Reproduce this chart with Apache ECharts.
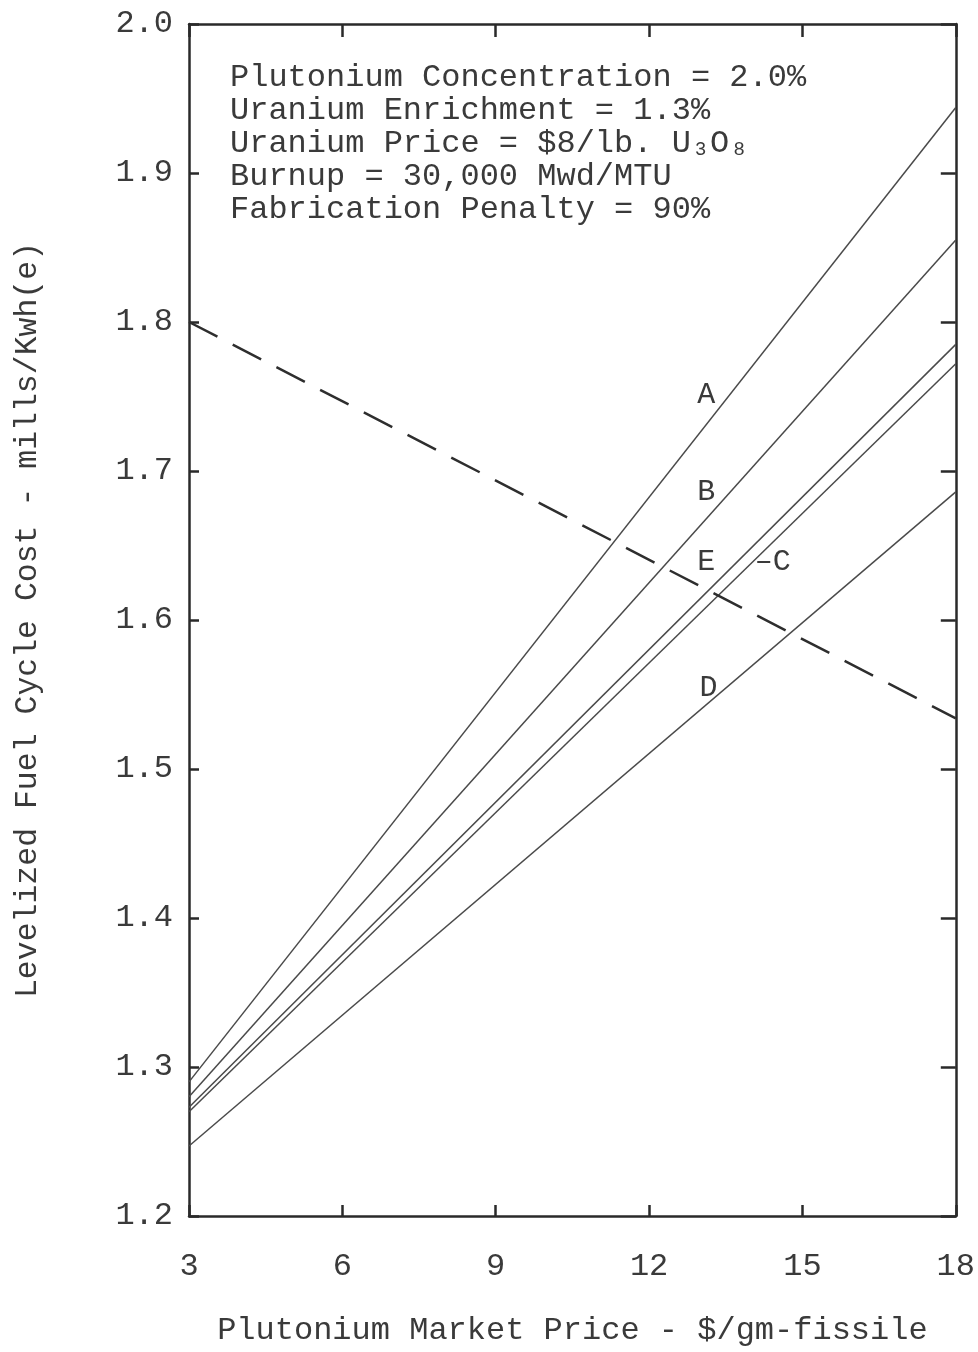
<!DOCTYPE html>
<html>
<head>
<meta charset="utf-8">
<script src="https://cdn.jsdelivr.net/npm/echarts@6/dist/echarts.min.js"></script>
<style>
  html, body { margin: 0; padding: 0; background: #ffffff; overflow: hidden; }
  #chart { width: 978px; height: 1352px; }
</style>
</head>
<body>
<div id="chart"></div>
<script>
// Plutonium market price ($/gm-fissile) at the two ends of each straight line
const prices = [3, 18];

// Levelized fuel cycle cost (mills/Kwh(e)) for each case
const caseA = [1.290, 1.944];
const caseB = [1.280, 1.855];
const caseE = [1.273, 1.785];
const caseC = [1.270, 1.772];
const caseD = [1.247, 1.686];
// Reference cost, dashed
const reference = [1.800, 1.534];

const xTicks = [3, 6, 9, 12, 15, 18];
const yTicks = [1.2, 1.3, 1.4, 1.5, 1.6, 1.7, 1.8, 1.9, 2.0];

const conditions = [
  'Plutonium Concentration = 2.0%',
  'Uranium Enrichment = 1.3%',
  'Uranium Price = $8/lb. U\u2083O\u2088',
  'Burnup = 30,000 Mwd/MTU',
  'Fabrication Penalty = 90%'
];

const FONT = '"Liberation Mono", "DejaVu Sans Mono", monospace';
const INK = '#3a3a3a';
const LINE = '#4a4a4a';
const FRAME = '#2a2a2a';

const pairs = (ys) => prices.map((x, i) => [x, ys[i]]);

function tag(text, x, y) {
  return {
    data: [{
      coord: [x, y],
      symbol: 'circle', symbolSize: 0,
      label: { show: true, formatter: text, position: 'inside',
               color: INK, fontFamily: FONT, fontSize: 30 }
    }]
  };
}

function caseSeries(name, ys, mark) {
  return {
    name: name, type: 'line', data: pairs(ys),
    showSymbol: false, symbol: 'none', silent: true,
    lineStyle: { color: LINE, width: 1.5 },
    markPoint: mark
  };
}

const frameLine = { show: true, onZero: false, lineStyle: { color: FRAME, width: 2.5 } };
const tickStyle = (len) => ({ show: true, inside: true, length: len, lineStyle: { color: FRAME, width: 2.5 } });

const chart = echarts.init(document.getElementById('chart'));
chart.setOption({
  animation: false,
  backgroundColor: '#ffffff',
  grid: { left: 189, right: 18, top: 24, bottom: 129 },
  xAxis: [
    {
      type: 'value', min: 3, max: 18, interval: 3,
      name: 'Plutonium Market Price - $/gm-fissile',
      nameLocation: 'middle', nameGap: 99,
      nameTextStyle: { color: INK, fontFamily: FONT, fontSize: 32 },
      axisLine: frameLine,
      axisTick: tickStyle(11),
      axisLabel: { color: INK, fontFamily: FONT, fontSize: 32, margin: 35,
                   formatter: (v) => xTicks.includes(v) ? String(v) : '' },
      splitLine: { show: false }
    },
    {
      type: 'value', min: 3, max: 18, interval: 3, position: 'top',
      axisLine: frameLine,
      axisTick: tickStyle(13),
      axisLabel: { show: false },
      splitLine: { show: false }
    }
  ],
  yAxis: [
    {
      type: 'value', min: 1.2, max: 2.0, interval: 0.1,
      name: 'Levelized Fuel Cycle Cost - mills/Kwh(e)',
      nameLocation: 'middle', nameGap: 145, nameRotate: 90,
      nameTextStyle: { color: INK, fontFamily: FONT, fontSize: 31.5 },
      axisLine: frameLine,
      axisTick: tickStyle(10),
      axisLabel: { color: INK, fontFamily: FONT, fontSize: 32, margin: 16,
                   formatter: (v) => {
                     const t = yTicks.find((k) => Math.abs(k - v) < 1e-6);
                     return t === undefined ? '' : t.toFixed(1);
                   } },
      splitLine: { show: false }
    },
    {
      type: 'value', min: 1.2, max: 2.0, interval: 0.1, position: 'right',
      axisLine: frameLine,
      axisTick: tickStyle(15),
      axisLabel: { show: false },
      splitLine: { show: false }
    }
  ],
  series: [
    caseSeries('A', caseA, tag('A', 13.12, 1.751)),
    caseSeries('B', caseB, tag('B', 13.12, 1.686)),
    caseSeries('E', caseE, tag('E', 13.12, 1.639)),
    caseSeries('C', caseC, tag('\u2013C', 14.42, 1.639)),
    caseSeries('D', caseD, tag('D', 13.16, 1.554)),
    {
      name: 'reference', type: 'line', data: pairs(reference),
      showSymbol: false, symbol: 'none', silent: true,
      lineStyle: { color: '#2e2e2e', width: 2.5, type: [32, 17.2] }
    }
  ],
  graphic: [{
    type: 'text', left: 230, top: 61, silent: true,
    style: {
      text: conditions.join('\n'),
      fill: INK, font: '32px ' + FONT, lineHeight: 33
    }
  }]
});
</script>
</body>
</html>
